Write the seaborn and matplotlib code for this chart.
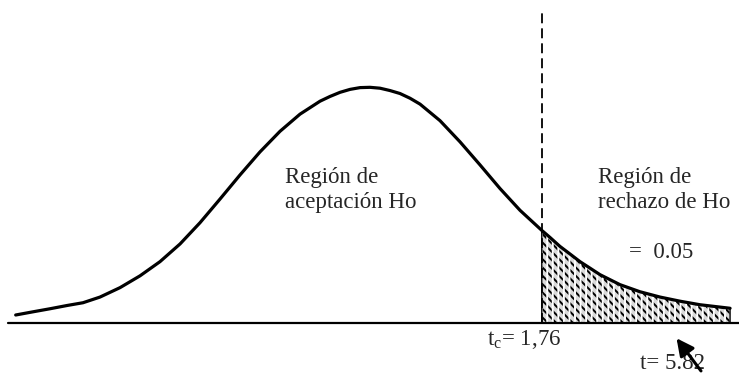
import numpy as np
import pandas as pd
import matplotlib
matplotlib.use('Agg')
import matplotlib.pyplot as plt
import seaborn as sns

# curva (t, densidad)
curve_t = [-3.538, -3.364, -3.192, -3.021, -2.860, -2.689, -2.487, -2.286, -2.085, -1.883,
           -1.682, -1.481, -1.279, -1.078, -0.876, -0.675, -0.473, -0.373, -0.272, -0.171,
           -0.070, 0.030, 0.131, 0.232, 0.332, 0.433, 0.534, 0.735, 0.937, 1.138,
           1.339, 1.541, 1.760, 1.843, 1.942, 2.044, 2.145, 2.246, 2.346, 2.548,
           2.749, 2.951, 3.152, 3.353, 3.656]
curve_density = [0.0136, 0.0190, 0.0242, 0.0297, 0.0344, 0.044, 0.060, 0.080, 0.104, 0.134,
                 0.170, 0.210, 0.251, 0.290, 0.325, 0.354, 0.376, 0.384, 0.391, 0.396,
                 0.399, 0.3995, 0.398, 0.394, 0.389, 0.381, 0.371, 0.343, 0.307, 0.268,
                 0.228, 0.191, 0.157, 0.145, 0.130, 0.117, 0.104, 0.093, 0.082, 0.065,
                 0.053, 0.044, 0.037, 0.031, 0.025]
t_crit = 1.76
t_obs_label = 't= 5.82'
tc_label = 't$_{\\mathrm{c}}$= 1,76'
alpha_label = '=  0.05'
accept_lines = ['Región de', 'aceptación Ho']
reject_lines = ['Región de', 'rechazo de Ho']

sns.set_style('white')
plt.rcParams['font.family'] = ['Liberation Serif', 'DejaVu Serif']
plt.rcParams['mathtext.fontset'] = 'custom'
plt.rcParams['mathtext.rm'] = 'Liberation Serif'
plt.rcParams['hatch.linewidth'] = 1.4

df = pd.DataFrame({'t': curve_t, 'f': curve_density})

fig = plt.figure(figsize=(7.39, 3.74), dpi=100)
ax = fig.add_axes([0, 0, 1, 1])
ax.set_xlim(-3.696, 3.746)
ax.set_ylim(-0.0864, 0.5475)
ax.axis('off')

# eje horizontal
ax.plot([-3.615, 3.746], [0, 0], color='black', lw=1.6)

# región de rechazo sombreada (diagonales negras cortadas por verticales blancas)
tail = df[df['t'] >= t_crit]
ax.fill_between(tail['t'], 0, tail['f'], facecolor='#d9d9d9', edgecolor='black',
                hatch='\\' * 4, linewidth=0)
ax.fill_between(tail['t'], 0, tail['f'], facecolor='none', edgecolor='white',
                hatch='|' * 3, linewidth=0)
ax.fill_between(tail['t'], 0, tail['f'], facecolor='none', edgecolor='black', linewidth=1.0)

sns.lineplot(data=df, x='t', y='f', color='black', lw=2.3, ax=ax, sort=False,
             solid_joinstyle='round', solid_capstyle='round')

# valor crítico
ax.plot([t_crit, t_crit], [0, 0.525], color='black', lw=1.3, linestyle=(0, (5.5, 2.8)))

fs = 16.5
ax.text(-0.826, 0.237, accept_lines[0], fontsize=fs, va='baseline')
ax.text(-0.826, 0.195, accept_lines[1], fontsize=fs, va='baseline')
ax.text(2.33, 0.237, reject_lines[0], fontsize=fs, va='baseline')
ax.text(2.33, 0.195, reject_lines[1], fontsize=fs, va='baseline')
ax.text(2.64, 0.110, alpha_label, fontsize=fs, va='baseline')
ax.text(1.205, -0.0373, tc_label, fontsize=fs, va='baseline')
ax.text(2.75, -0.078, t_obs_label, fontsize=fs, va='baseline')

ax.annotate('', xy=(3.10, -0.022), xytext=(3.38, -0.085),
            arrowprops=dict(arrowstyle='-|>', color='black', lw=2.2, mutation_scale=26))

fig.savefig('out.png', dpi=100)
